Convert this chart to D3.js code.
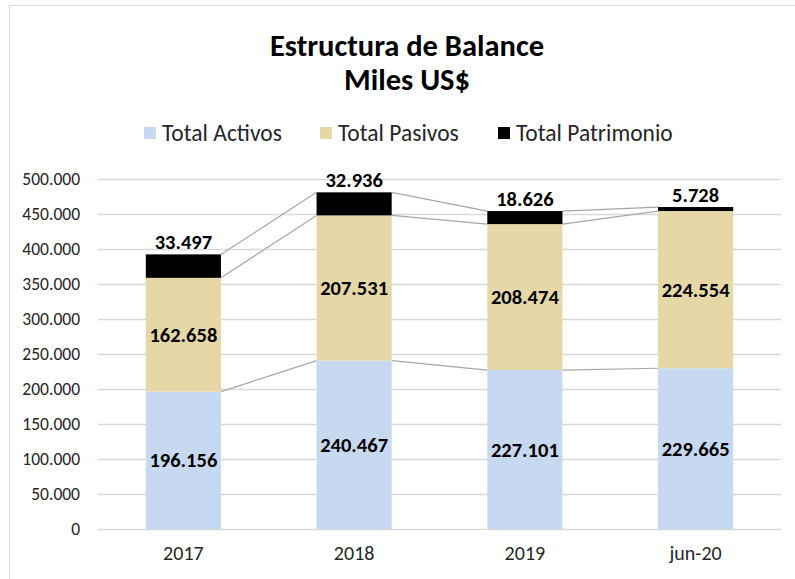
<!DOCTYPE html>
<html><head><meta charset="utf-8">
<script src="https://cdn.jsdelivr.net/npm/d3@7"></script>
<style>body{margin:0;background:#fff}svg{display:block;font-family:Carlito,Lato,"Open Sans",sans-serif}</style>
</head><body><svg id="c" width="795" height="579"></svg>
<script>
const categories = ["2017","2018","2019","jun-20"];
const seriesNames = ["Total Activos","Total Pasivos","Total Patrimonio"];
const activos = [196156,240467,227101,229665];
const pasivos = [162658,207531,208474,224554];
const patrimonio = [33497,32936,18626,5728];
const yTicks = [0,50000,100000,150000,200000,250000,300000,350000,400000,450000,500000];
const colors = ["#c6d9f1","#e6d7a7","#000000"];

const loc = d3.formatLocale({decimal:",",thousands:".",grouping:[3],currency:["$",""]});
const fmt = loc.format(",d");
const FF = "Carlito,Lato,sans-serif";

const svg = d3.select("#c");
svg.append("rect").attr("x",9.5).attr("y",5.5).attr("width",800).attr("height",600)
  .attr("fill","#fff").attr("stroke","#d9d9d9");

const m = {l:98,r:781,t:179,b:529};
const x = d3.scaleBand().domain(categories).range([m.l,m.r]).paddingInner(0.56).paddingOuter(0.28);
const y = d3.scaleLinear().domain([0,500000]).range([m.b,m.t]);

// title
svg.append("text").attr("x",407).attr("y",56).attr("text-anchor","middle")
  .attr("font-weight","bold").attr("font-size",30.5).text("Estructura de Balance");
svg.append("text").attr("x",407).attr("y",90).attr("text-anchor","middle")
  .attr("font-weight","bold").attr("font-size",30.5).text("Miles US$");

// legend
const legX = [144,320,498];
seriesNames.forEach((n,i)=>{
  svg.append("rect").attr("x",legX[i]).attr("y",127).attr("width",12).attr("height",12).attr("fill",colors[i]);
  svg.append("text").attr("x",legX[i]+18).attr("y",141).attr("font-size",23.5).attr("fill","#262626").text(n);
});

// grid
svg.append("g").selectAll("line").data(yTicks).join("line")
  .attr("x1",m.l).attr("x2",m.r).attr("y1",d=>Math.round(y(d))+0.5).attr("y2",d=>Math.round(y(d))+0.5)
  .attr("stroke","#d9d9d9").attr("stroke-width",1.5);

// y axis
const ya = svg.append("g").attr("transform",`translate(${m.l},0)`)
  .call(d3.axisLeft(y).tickValues(yTicks).tickFormat(d=>fmt(d)).tickSize(0).tickPadding(18));
ya.select(".domain").remove();
ya.attr("font-size",null).attr("font-family",null);
ya.selectAll("text").attr("font-size",17.5).attr("fill","#262626").style("font-family",FF);

// x axis
const xa = svg.append("g").attr("transform",`translate(0,${m.b})`)
  .call(d3.axisBottom(x).tickSize(0).tickPadding(17));
xa.select(".domain").remove();
xa.attr("font-size",null).attr("font-family",null);
xa.selectAll("text").attr("font-size",20).attr("fill","#262626").style("font-family",FF);

// stack
const rows = categories.map((c,i)=>({cat:c,a:activos[i],p:pasivos[i],t:patrimonio[i]}));
const stack = d3.stack().keys(["a","p","t"])(rows);

// series lines
const sl = svg.append("g");
stack.forEach(s=>{
  for(let i=0;i<s.length-1;i++){
    sl.append("line")
      .attr("x1",x(categories[i])+x.bandwidth()).attr("y1",y(s[i][1]))
      .attr("x2",x(categories[i+1])).attr("y2",y(s[i+1][1]))
      .attr("stroke","#a6a6a6").attr("stroke-width",1.2);
  }
});

// bars
stack.forEach((s,k)=>{
  svg.append("g").selectAll("rect").data(s).join("rect")
    .attr("x",d=>x(d.data.cat)).attr("width",x.bandwidth())
    .attr("y",d=>y(d[1])).attr("height",d=>y(d[0])-y(d[1]))
    .attr("fill",colors[k]);
});

// labels
stack.forEach((s,k)=>{
  svg.append("g").selectAll("text").data(s).join("text")
    .attr("x",d=>x(d.data.cat)+x.bandwidth()/2)
    .attr("y",d=> k<2 ? (y(d[0])+y(d[1]))/2 + 7 : y(d[1]) - 5)
    .attr("text-anchor","middle").attr("font-weight","bold").attr("font-size",20.5).attr("fill","#000")
    .text(d=>fmt(d[1]-d[0]));
});
</script></body></html>
